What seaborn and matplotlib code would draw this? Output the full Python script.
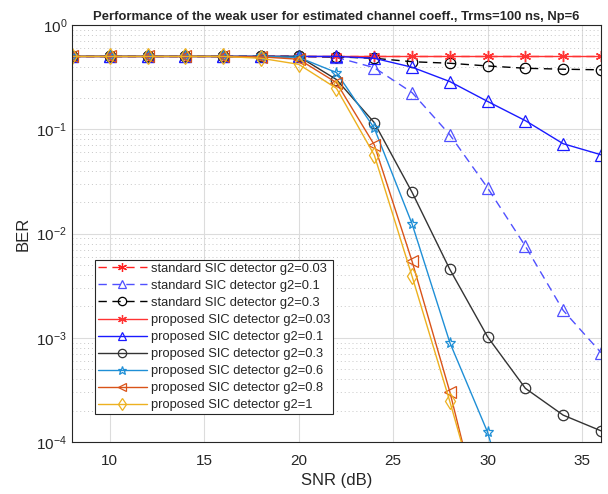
import numpy as np
import pandas as pd
import matplotlib
matplotlib.use('Agg')
import matplotlib.pyplot as plt
from matplotlib.ticker import LogLocator, NullFormatter
import seaborn as sns

# values (BER vs SNR)
snr = [8, 10, 12, 14, 16, 18, 20, 22, 24, 26, 28, 30, 32, 34, 36]

std_003 = [0.5, 0.5, 0.5, 0.5, 0.5, 0.5, 0.5, 0.5, 0.5, 0.5, 0.5, 0.5, 0.5, 0.5, 0.5]
std_01 = [0.5, 0.5, 0.5, 0.5, 0.5, 0.5, 0.5, 0.49, 0.39, 0.225, 0.0886, 0.0274, 0.00756, 0.00183, 0.00072]
std_03 = [0.5, 0.5, 0.5, 0.5, 0.5, 0.5, 0.5, 0.495, 0.48, 0.445, 0.43, 0.405, 0.385, 0.377, 0.372]
prop_003 = [0.5, 0.5, 0.5, 0.5, 0.5, 0.5, 0.5, 0.5, 0.5, 0.5, 0.5, 0.5, 0.5, 0.5, 0.5]
prop_01 = [0.5, 0.5, 0.5, 0.5, 0.5, 0.5, 0.5, 0.5, 0.48, 0.394, 0.287, 0.185, 0.121, 0.0727, 0.057]
prop_03 = [0.5, 0.5, 0.5, 0.5, 0.5, 0.5, 0.5, 0.30, 0.116, 0.0249, 0.00453, 0.00102, 0.000327, 0.000181, 0.000128]
prop_06 = [0.5, 0.5, 0.5, 0.5, 0.5, 0.5, 0.49, 0.35, 0.1026, 0.0124, 0.0009, 0.000124, 7e-6, None, None]
prop_08 = [0.5, 0.5, 0.5, 0.5, 0.5, 0.495, 0.47, 0.28, 0.071, 0.00543, 0.000303, 1.05e-5, None, None, None]
prop_1 = [0.5, 0.5, 0.5, 0.5, 0.5, 0.48, 0.42, 0.247, 0.0567, 0.0039, 0.000245, 1.3e-5, None, None, None]

labels = ['standard SIC detector g2=0.03', 'standard SIC detector g2=0.1',
          'standard SIC detector g2=0.3', 'proposed SIC detector g2=0.03',
          'proposed SIC detector g2=0.1', 'proposed SIC detector g2=0.3',
          'proposed SIC detector g2=0.6', 'proposed SIC detector g2=0.8',
          'proposed SIC detector g2=1']
series = [std_003, std_01, std_03, prop_003, prop_01, prop_03, prop_06, prop_08, prop_1]

# styles (colour, linestyle, marker, marker size)
styles = [('#ff2020', (0, (6, 4)), (6, 2, 0), 8),
          ('#5050ff', (0, (6, 4)), '^', 8),
          ('#000000', (0, (6, 4)), 'o', 7.5),
          ('#ff3333', '-', (6, 2, 0), 8),
          ('#1a1aff', '-', '^', 8),
          ('#333333', '-', 'o', 7.5),
          ('#1f8fd6', '-', '*', 8),
          ('#d95319', '-', '<', 8),
          ('#edb120', '-', 'd', 8)]

sns.set_style('whitegrid')
plt.rcParams['font.family'] = ['Liberation Sans', 'DejaVu Sans']

fig = plt.figure(figsize=(6.08, 4.94), dpi=100)
ax = fig.add_axes([0.1184, 0.1053, 0.870, 0.844])

for vals, lab, (col, ls, mk, ms) in zip(series, labels, styles):
    df = pd.DataFrame({'snr': snr, 'ber': vals}).dropna()
    sns.lineplot(data=df, x='snr', y='ber', ax=ax, color=col, linestyle=ls,
                 marker=mk, markersize=ms, markerfacecolor='none',
                 markeredgecolor=col, markeredgewidth=0.9, linewidth=1.0,
                 label=lab)

ax.set_yscale('log')
ax.set_xlim(8, 36)
ax.set_ylim(1e-4, 1)
ax.set_xticks([10, 15, 20, 25, 30, 35])
ax.yaxis.set_major_locator(LogLocator(base=10, numticks=10))
ax.yaxis.set_minor_locator(LogLocator(base=10, subs=np.arange(2, 10), numticks=20))
ax.yaxis.set_minor_formatter(NullFormatter())

ax.grid(True, which='major', color='#dcdcdc', linewidth=0.8, linestyle='-')
ax.grid(True, which='minor', axis='y', color='#c8c8c8', linewidth=0.7, linestyle=(0, (1, 3)))
ax.set_axisbelow(True)

for sp in ax.spines.values():
    sp.set_color('#262626')
    sp.set_linewidth(0.8)
ax.tick_params(axis='both', which='both', direction='in', colors='#262626',
               labelsize=11, labelcolor='#262626')
ax.tick_params(axis='y', which='major', length=4)
ax.tick_params(axis='y', which='minor', length=2)
ax.tick_params(axis='x', length=4, pad=9)

ax.set_xlabel('SNR (dB)', fontsize=12, color='#262626', labelpad=3)
ax.set_ylabel('BER', fontsize=12, color='#262626')
title = ax.set_title('Performance of the weak user for estimated channel coeff., Trms=100 ns, Np=6',
                     fontsize=8, fontweight='bold', pad=3.5)
# fit the title to the width it has in the reference (about 492 px)
fig.canvas.draw()
w = title.get_window_extent().width
title.set_fontsize(8 * 492 / w)

leg = ax.legend(loc='lower left', bbox_to_anchor=(0.0436, 0.067), fontsize=9.3,
                frameon=True, fancybox=False, borderpad=0.2, labelspacing=0.39,
                handlelength=3.8, handletextpad=0.3, borderaxespad=0, markerscale=0.8)
leg.get_frame().set_edgecolor('#262626')
leg.get_frame().set_linewidth(0.8)
leg.get_frame().set_alpha(1)

fig.savefig('out.png', dpi=100)
